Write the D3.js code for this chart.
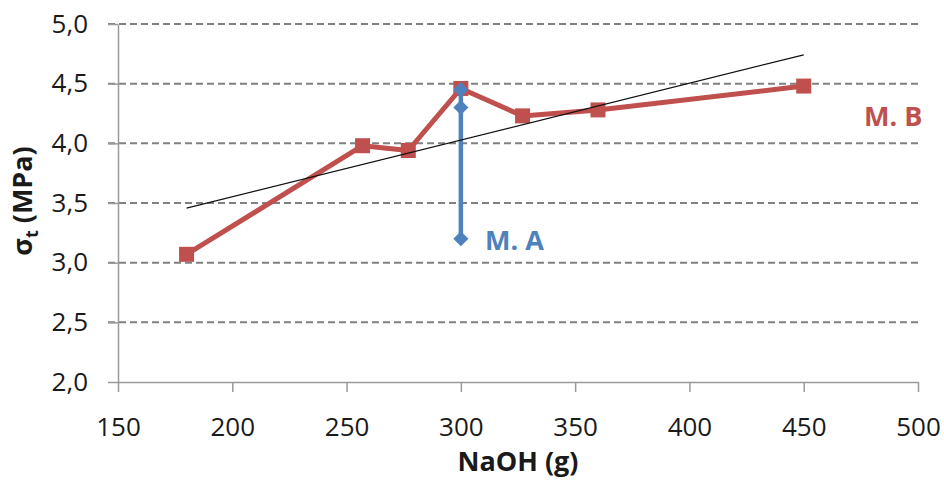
<!DOCTYPE html>
<html>
<head>
<meta charset="utf-8">
<script src="https://cdn.jsdelivr.net/npm/d3@7"></script>
<style>
  body { margin: 0; background: #fff; }
  text { font-family: "Open Sans", sans-serif; }
</style>
</head>
<body>
<div id="chart"></div>
<script>
// M. B series
var naohB = [180, 257, 277, 300, 327, 360, 450];
var sigmaB = [3.07, 3.98, 3.94, 4.46, 4.23, 4.28, 4.48];
// M. A series
var naohA = [300, 300, 300];
var sigmaA = [4.45, 4.30, 3.20];

var xTicks = [150, 200, 250, 300, 350, 400, 450, 500];
var yTicks = [2.0, 2.5, 3.0, 3.5, 4.0, 4.5, 5.0];

var width = 944, height = 485;

var svg = d3.select("#chart")
    .append("svg")
    .attr("width", width)
    .attr("height", height);

var x = d3.scaleLinear().domain([150, 500]).range([118, 918]);
var y = d3.scaleLinear().domain([2, 5]).range([382, 24]);

// dashed gridlines
svg.append("g")
    .selectAll("line")
    .data(yTicks.filter(function (d) { return d > 2; }))
    .enter()
    .append("line")
    .attr("x1", 108)
    .attr("x2", x(500))
    .attr("y1", function (d) { return y(d); })
    .attr("y2", function (d) { return y(d); })
    .attr("stroke", "#808080")
    .attr("stroke-width", 2)
    .attr("stroke-dasharray", "7,4");

// y axis
var yAxis = svg.append("g")
    .attr("transform", "translate(" + x(150) + ",0)")
    .call(d3.axisLeft(y).tickValues(yTicks)
        .tickFormat(function (d) { return d3.format(".1f")(d).replace(".", ","); })
        .tickSize(10).tickSizeOuter(0).tickPadding(20));

// x axis
var xAxis = svg.append("g")
    .attr("transform", "translate(0," + y(2) + ")")
    .call(d3.axisBottom(x).tickValues(xTicks)
        .tickFormat(d3.format("d"))
        .tickSize(10).tickSizeOuter(0).tickPadding(26));

[yAxis, xAxis].forEach(function (g) {
    g.select(".domain").attr("stroke", "#9a9a9a").attr("stroke-width", 1.5);
    g.selectAll(".tick line").attr("stroke", "#9a9a9a").attr("stroke-width", 1.5);
    g.selectAll(".tick text")
        .attr("fill", "#1a1a1a")
        .style("font-family", "'Open Sans', sans-serif")
        .style("font-size", "26px");
});

// M. B line
var lineB = d3.line()
    .x(function (d, i) { return x(naohB[i]); })
    .y(function (d) { return y(d); });

svg.append("path")
    .datum(sigmaB)
    .attr("fill", "none")
    .attr("stroke", "#C0504D")
    .attr("stroke-width", 5)
    .attr("stroke-linejoin", "round")
    .attr("d", lineB);

svg.append("g")
    .selectAll("rect")
    .data(sigmaB)
    .enter()
    .append("rect")
    .attr("x", function (d, i) { return x(naohB[i]) - 7.5; })
    .attr("y", function (d) { return y(d) - 7.5; })
    .attr("width", 15)
    .attr("height", 15)
    .attr("fill", "#C0504D");

// M. A line
var lineA = d3.line()
    .x(function (d, i) { return x(naohA[i]); })
    .y(function (d) { return y(d); });

svg.append("path")
    .datum(sigmaA)
    .attr("fill", "none")
    .attr("stroke", "#4F81BD")
    .attr("stroke-width", 4.5)
    .attr("d", lineA);

svg.append("g")
    .selectAll("path")
    .data(sigmaA)
    .enter()
    .append("path")
    .attr("d", d3.symbol().type(d3.symbolDiamond2).size(145))
    .attr("transform", function (d, i) { return "translate(" + x(naohA[i]) + "," + y(d) + ")"; })
    .attr("fill", "#4F81BD");

// linear trendline of M. B
var mx = d3.mean(naohB), my = d3.mean(sigmaB);
var sxy = d3.sum(naohB, function (d, i) { return (d - mx) * (sigmaB[i] - my); });
var sxx = d3.sum(naohB, function (d) { return (d - mx) * (d - mx); });
var slope = sxy / sxx, icpt = my - slope * mx;
var x0 = d3.min(naohB), x1 = d3.max(naohB);

svg.append("line")
    .attr("x1", x(x0))
    .attr("y1", y(icpt + slope * x0))
    .attr("x2", x(x1))
    .attr("y2", y(icpt + slope * x1))
    .attr("stroke", "#111")
    .attr("stroke-width", 1.2);

// series labels
svg.append("text")
    .attr("x", 485)
    .attr("y", 250)
    .attr("fill", "#4F81BD")
    .style("font-size", "27px")
    .style("font-weight", "bold")
    .text("M. A");

svg.append("text")
    .attr("x", 864)
    .attr("y", 126)
    .attr("fill", "#C0504D")
    .style("font-size", "27px")
    .style("font-weight", "bold")
    .text("M. B");

// axis titles
svg.append("text")
    .attr("x", x(325))
    .attr("y", 471)
    .attr("text-anchor", "middle")
    .attr("fill", "#1a1a1a")
    .style("font-size", "27px")
    .style("font-weight", "bold")
    .text("NaOH (g)");

var yt = svg.append("text")
    .attr("transform", "translate(32,201) rotate(-90)")
    .attr("text-anchor", "middle")
    .attr("fill", "#1a1a1a")
    .style("font-size", "27px")
    .style("font-weight", "bold");
yt.append("tspan").text("σ");
yt.append("tspan").attr("dy", 6).style("font-size", "18px").text("t");
yt.append("tspan").attr("dy", -6).text(" (MPa)");
</script>
</body>
</html>
